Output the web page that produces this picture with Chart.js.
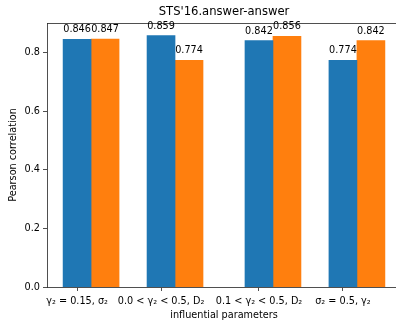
<!DOCTYPE html>
<html>
<head>
<meta charset="utf-8">
<script src="https://cdn.jsdelivr.net/npm/chart.js@4/dist/chart.umd.min.js"></script>
<style>
  html, body { margin: 0; padding: 0; overflow: hidden; background: #fff; }
  #wrap { width: 404px; height: 326px; }
</style>
</head>
<body>
<div id="wrap"><canvas id="c" width="404" height="326"></canvas></div>
<script>
// ---- data ----
const chartTitle = "STS'16.answer-answer";
const xTitle = "influential parameters";
const yTitle = "Pearson correlation";
const categories = ["γ₂ = 0.15, σ₂", "0.0 < γ₂ < 0.5, D₂", "0.1 < γ₂ < 0.5, D₂", "σ₂ = 0.5, γ₂"];
const groupPositions = [0, 3, 6.5, 9.5];
const seriesA = [0.846, 0.859, 0.842, 0.774];
const seriesB = [0.847, 0.774, 0.856, 0.842];
const yTicks = [0.0, 0.2, 0.4, 0.6, 0.8];

const FONT = "'DejaVu Sans', sans-serif";
const FS = 9.7;
const ptsA = seriesA.map((v, i) => ({ x: groupPositions[i], y: v }));
const ptsB = seriesB.map((v, i) => ({ x: groupPositions[i] + 1, y: v }));

const allVals = seriesA.concat(seriesB);
const yMax = Math.max(...allVals) * 1.05;
const xLo = groupPositions[0] - 0.5, xHi = groupPositions[groupPositions.length - 1] + 1.5;
const xPad = (xHi - xLo) * 0.05;

const valueLabels = {
  id: 'valueLabels',
  afterDatasetsDraw(chart) {
    const ctx = chart.ctx;
    ctx.save();
    ctx.font = FS + "px " + FONT;
    ctx.fillStyle = '#000';
    ctx.textAlign = 'center';
    ctx.textBaseline = 'alphabetic';
    chart.data.datasets.forEach((ds, di) => {
      const meta = chart.getDatasetMeta(di);
      meta.data.forEach((el, i) => {
        ctx.fillText(ds.data[i].y.toFixed(3), el.x, el.y - 7);
      });
    });
    ctx.restore();
  }
};

const axisColor = '#222';
new Chart(document.getElementById('c'), {
  type: 'bar',
  data: {
    datasets: [
      { data: ptsA, backgroundColor: '#1f77b4', grouped: false, barPercentage: 1, categoryPercentage: 1 },
      { data: ptsB, backgroundColor: '#ff7f0e', grouped: false, barPercentage: 1, categoryPercentage: 1 }
    ]
  },
  options: {
    responsive: false,
    devicePixelRatio: 1,
    animation: false,
    layout: { padding: { left: 0, right: 3, top: 0, bottom: 0 } },
    plugins: { legend: { display: false }, tooltip: { enabled: false }, title: { display: false } },
    scales: {
      x: {
        type: 'linear',
        position: 'bottom',
        offset: false,
        min: xLo - xPad,
        max: xHi + xPad,
        afterBuildTicks: (s) => { s.ticks = groupPositions.map(v => ({ value: v })); },
        afterFit: (s) => { s.height = 39; },
        ticks: {
          autoSkip: false, maxRotation: 0, minRotation: 0, padding: 5,
          color: '#000', font: { family: FONT, size: FS },
          callback: (v, i) => categories[i]
        },
        grid: { display: true, offset: false, drawOnChartArea: false, drawTicks: true, tickLength: 4, color: axisColor, lineWidth: 0.8 },
        border: { display: true, color: axisColor, width: 0.8 },
        title: { display: true, text: xTitle, color: '#000', font: { family: FONT, size: FS }, padding: { top: 0, bottom: 5 } }
      },
      x2: {
        type: 'linear',
        position: 'top',
        display: true,
        offset: false,
        min: xLo - xPad,
        max: xHi + xPad,
        afterFit: (s) => { s.height = 23; },
        ticks: { display: false },
        grid: { display: false, drawTicks: false },
        border: { display: true, color: axisColor, width: 0.8 },
        title: { display: true, text: chartTitle, color: '#000', font: { family: FONT, size: 11.6 }, padding: { top: 5, bottom: 0 } }
      },
      y: {
        min: 0,
        max: yMax,
        afterFit: (s) => { s.width = 47; },
        afterBuildTicks: (s) => { s.ticks = yTicks.map(v => ({ value: v })); },
        ticks: {
          padding: 3, color: '#000', font: { family: FONT, size: FS },
          callback: (v) => Number(v).toFixed(1)
        },
        grid: { display: true, drawOnChartArea: false, drawTicks: true, tickLength: 4, color: axisColor, lineWidth: 0.8 },
        border: { display: true, color: axisColor, width: 0.8 },
        title: { display: true, text: yTitle, color: '#000', font: { family: FONT, size: FS }, padding: { top: 8, bottom: 0 } }
      }
    }
  },
  plugins: [valueLabels]
});
</script>
</body>
</html>
